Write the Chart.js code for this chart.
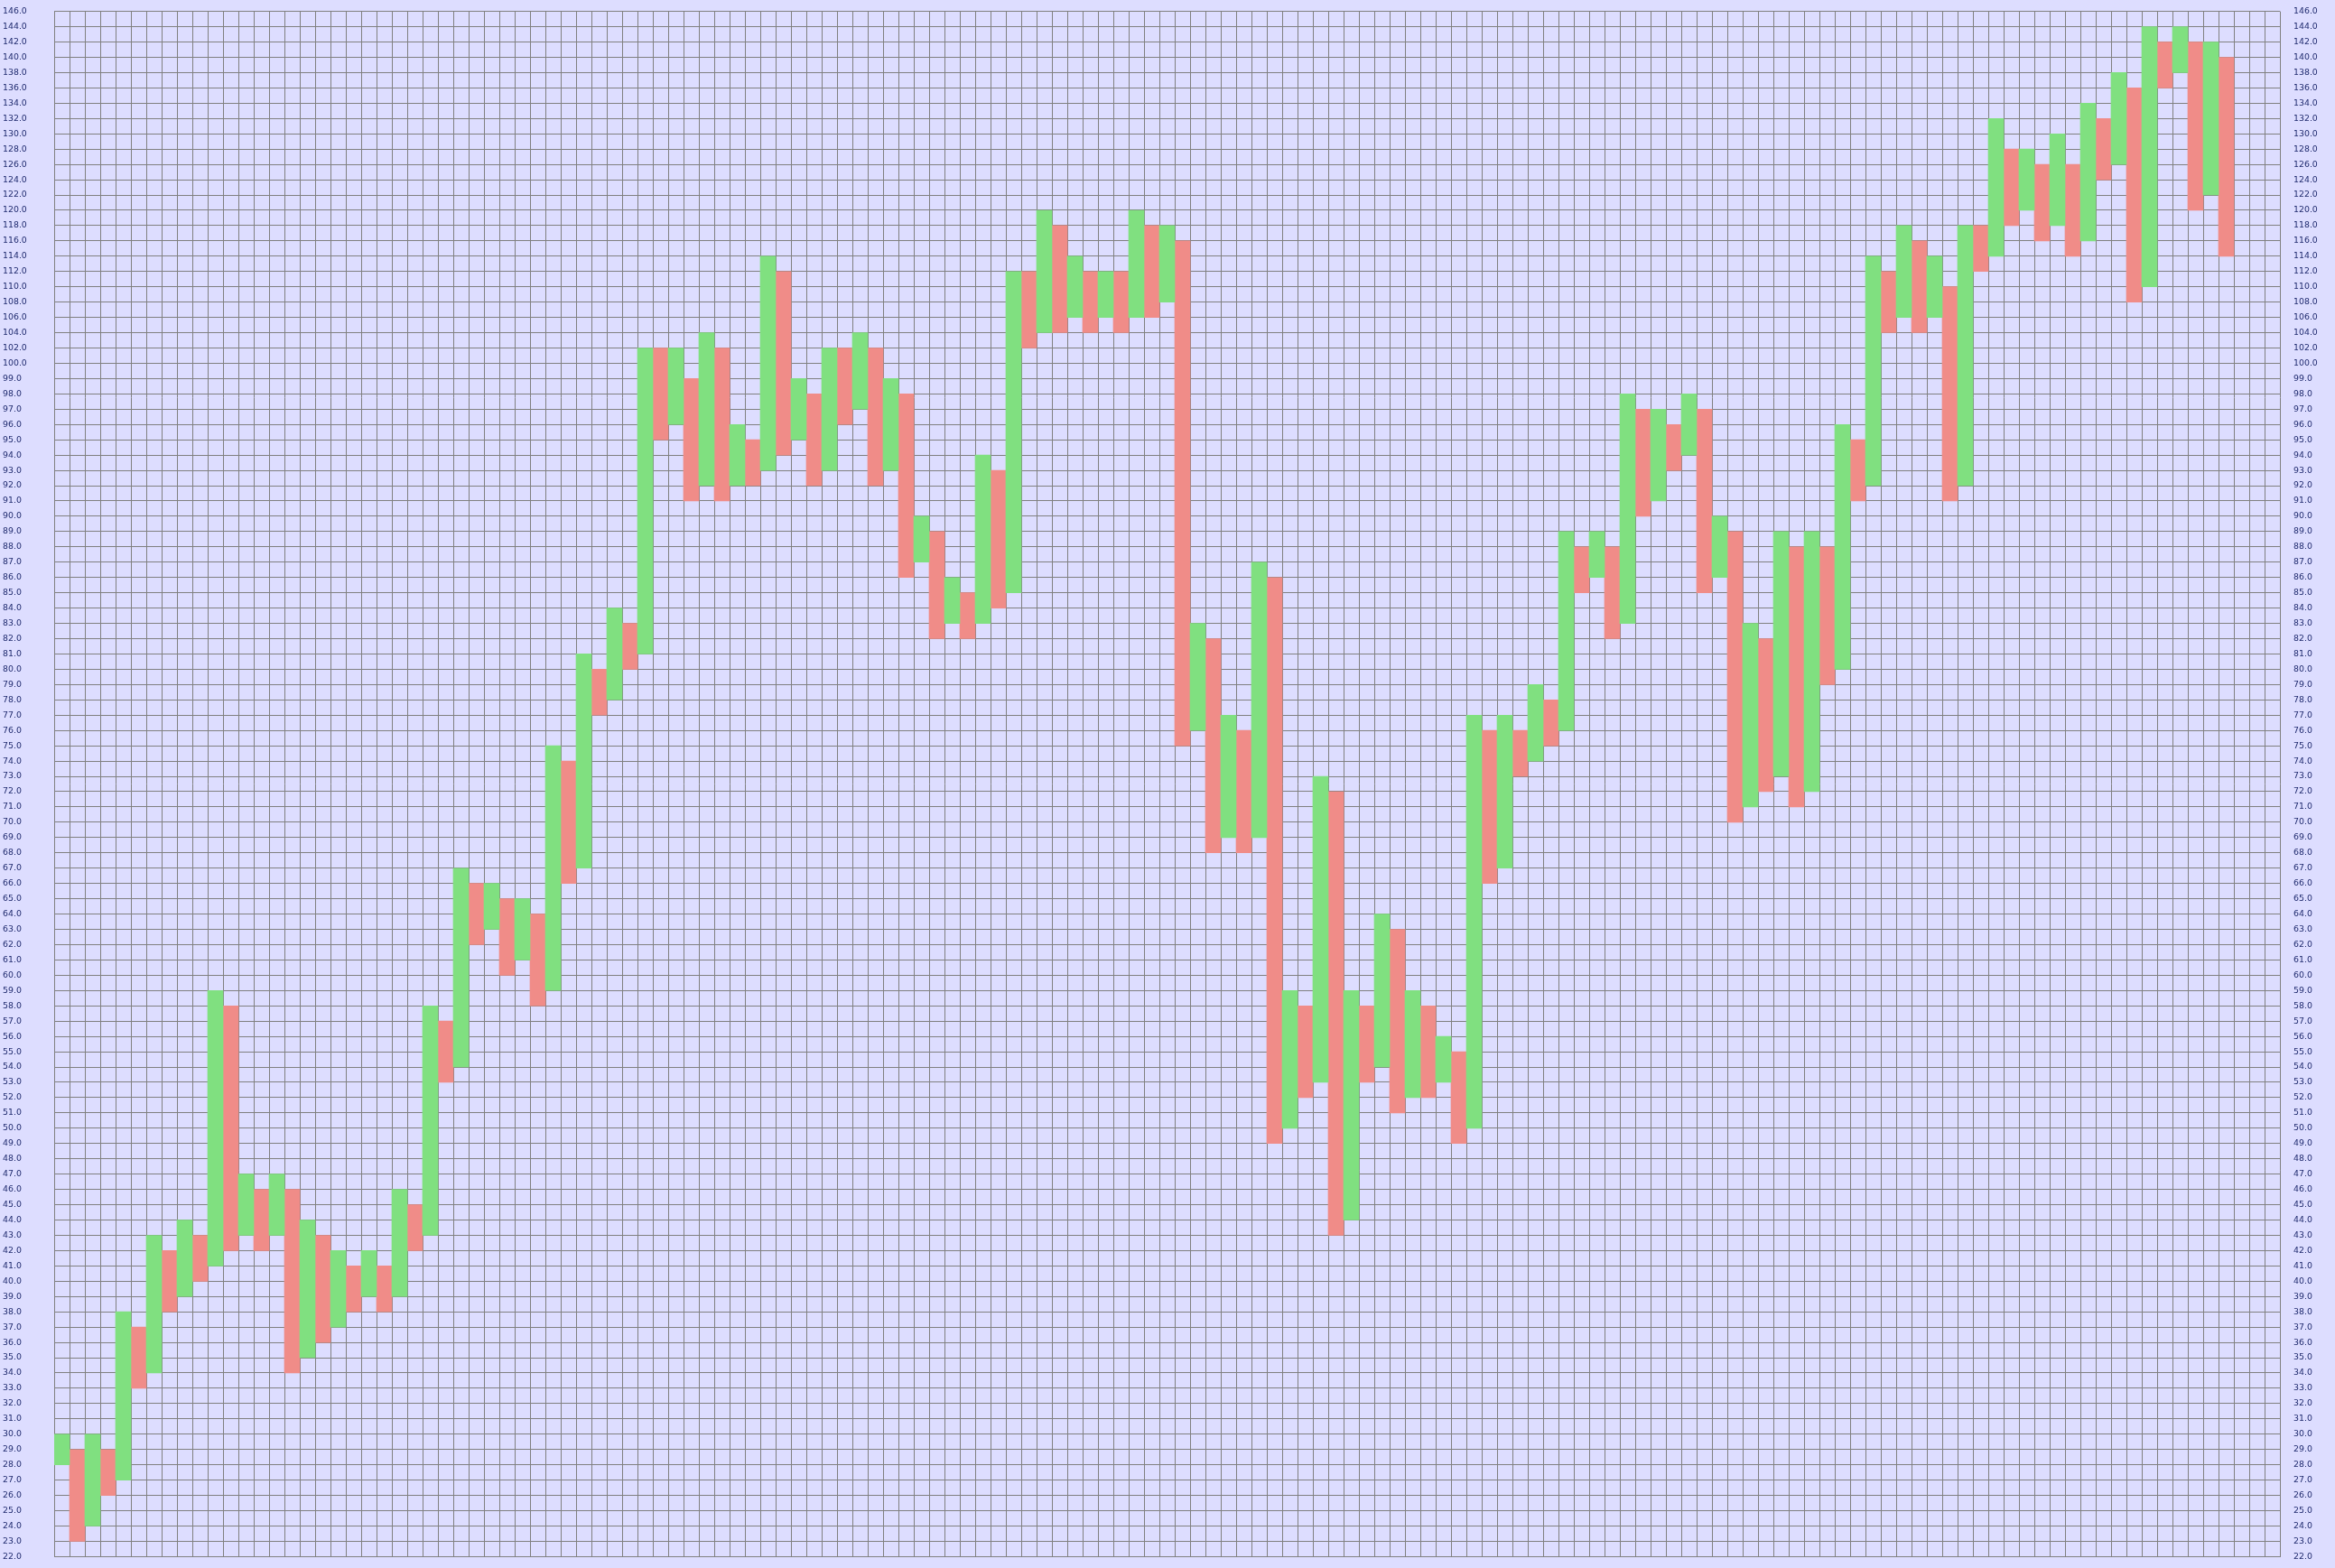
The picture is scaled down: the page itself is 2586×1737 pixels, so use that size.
<!DOCTYPE html>
<html>
<head>
<meta charset="utf-8">
<script src="https://cdn.jsdelivr.net/npm/chart.js@4.4.0/dist/chart.umd.min.js"></script>
<style>
  html, body { margin: 0; padding: 0; background: #ddddff; }
  #wrap { width: 2586px; height: 1737px; }
</style>
</head>
<body>
<div id="wrap"><canvas id="pf"></canvas></div>
<script>
// box edges: 1 per box up to 100, 2 per box above
const boxEdges = [];
for (let p = 22; p <= 100; p++) boxEdges.push(p);
for (let p = 102; p <= 146; p += 2) boxEdges.push(p);

const columnCount = 145;

// rising (green) columns, they sit on even columns 0,2,4...
const riseLow = [28, 24, 27, 34, 39, 41, 43, 43, 35, 37, 39, 39, 43, 54, 63, 61, 59, 67, 78, 81,
  96, 92, 92, 93, 95, 93, 97, 93, 87, 83, 83, 85, 104, 106, 106, 106, 108, 76, 69, 69,
  50, 53, 44, 54, 52, 53, 50, 67, 74, 76, 86, 83, 91, 94, 86, 71, 73, 72, 80, 92,
  106, 106, 92, 114, 120, 118, 116, 126, 110, 138, 122];
const riseHigh = [30, 30, 38, 43, 44, 59, 47, 47, 44, 42, 42, 46, 58, 67, 66, 65, 75, 81, 84, 102,
  102, 104, 96, 114, 99, 102, 104, 99, 90, 86, 94, 112, 120, 114, 112, 120, 118, 83, 77, 87,
  59, 73, 59, 64, 59, 56, 77, 77, 79, 89, 89, 98, 97, 98, 90, 83, 89, 89, 96, 114,
  118, 114, 118, 132, 128, 130, 134, 138, 144, 144, 142];

// falling (red) columns, on odd columns 1,3,5...
const fallLow = [23, 26, 33, 38, 40, 42, 42, 34, 36, 38, 38, 42, 53, 62, 60, 58, 66, 77, 80, 95,
  91, 91, 92, 94, 92, 96, 92, 86, 82, 82, 84, 102, 104, 104, 104, 106, 75, 68, 68, 49,
  52, 43, 53, 51, 52, 49, 66, 73, 75, 85, 82, 90, 93, 85, 70, 72, 71, 79, 91, 104,
  104, 91, 112, 118, 116, 114, 124, 108, 136, 120, 114];
const fallHigh = [29, 29, 37, 42, 43, 58, 46, 46, 43, 41, 41, 45, 57, 66, 65, 64, 74, 80, 83, 102,
  99, 102, 95, 112, 98, 102, 102, 98, 89, 85, 93, 112, 118, 112, 112, 118, 116, 82, 76, 86,
  58, 72, 58, 63, 58, 55, 76, 76, 78, 88, 88, 97, 96, 97, 89, 82, 88, 88, 95, 112,
  116, 110, 118, 128, 126, 126, 132, 136, 142, 142, 140];

const GREEN = '#80e080';
const RED = '#f08c88';
const GRID = '#808080';
const LABEL = '#1f2a6e';

const toBox = p => boxEdges.indexOf(p);
const labels = Array.from({ length: columnCount }, (_, i) => String(i + 1));

const riseData = labels.map(() => null);
const fallData = labels.map(() => null);
riseLow.forEach((lo, i) => { riseData[2 * i] = [toBox(lo), toBox(riseHigh[i])]; });
fallLow.forEach((lo, i) => { fallData[2 * i + 1] = [toBox(lo), toBox(fallHigh[i])]; });

const tickFont = { family: 'DejaVu Sans', size: 9.4 };
const boxLabel = v => (boxEdges[v] !== undefined ? boxEdges[v].toFixed(1) : '');

new Chart(document.getElementById('pf'), {
  type: 'bar',
  data: {
    labels: labels,
    datasets: [
      { label: 'X', data: riseData, backgroundColor: GREEN, borderWidth: 0,
        barPercentage: 1, categoryPercentage: 1, grouped: false },
      { label: 'O', data: fallData, backgroundColor: RED, borderWidth: 0,
        barPercentage: 1, categoryPercentage: 1, grouped: false }
    ]
  },
  options: {
    responsive: true,
    maintainAspectRatio: false,
    animation: false,
    layout: { padding: { left: 3, right: 0, top: 10, bottom: 10 } },
    plugins: { legend: { display: false }, tooltip: { enabled: false } },
    scales: {
      x: {
        z: 1,
        offset: true,
        grid: { color: GRID, lineWidth: 1, offset: true, drawTicks: false },
        border: { color: GRID, width: 1 },
        ticks: { display: false },
        afterFit: s => { s.height = 0; }
      },
      y: {
        z: 1,
        position: 'left',
        min: 0,
        max: boxEdges.length - 1,
        grid: { color: GRID, lineWidth: 1, drawTicks: false },
        border: { color: GRID, width: 1 },
        ticks: {
          stepSize: 1, autoSkip: false, crossAlign: 'far', padding: 0,
          color: LABEL, font: tickFont, callback: boxLabel
        },
        afterFit: s => { s.width = 57; }
      },
      y2: {
        position: 'right',
        min: 0,
        max: boxEdges.length - 1,
        grid: { display: false },
        border: { display: false },
        ticks: {
          stepSize: 1, autoSkip: false, padding: 7,
          color: LABEL, font: tickFont, callback: boxLabel
        },
        afterFit: s => { s.width = 61; }
      }
    }
  }
});
</script>
</body>
</html>
